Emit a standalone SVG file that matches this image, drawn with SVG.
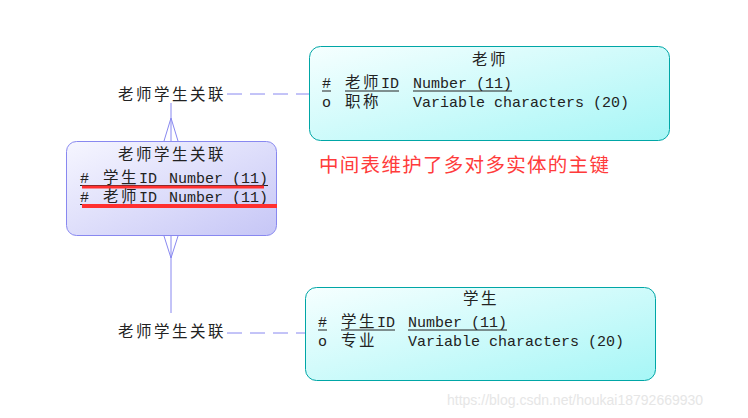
<svg xmlns="http://www.w3.org/2000/svg" width="748" height="418" viewBox="0 0 748 418">
<defs>
<linearGradient id="gc" x1="0" y1="0" x2="1" y2="1"><stop offset="0" stop-color="#f6ffff"/><stop offset="1" stop-color="#a6f6f6"/></linearGradient>
<linearGradient id="gv" x1="0" y1="0" x2="1" y2="1"><stop offset="0" stop-color="#f6f6ff"/><stop offset="1" stop-color="#c6c6f6"/></linearGradient>
<style>
.cj{font-family:"Noto Sans CJK SC",sans-serif;font-size:15.5px;letter-spacing:2.5px;fill:#222}
.mn{font-family:"Liberation Mono",monospace;font-size:15px;fill:#222}
.ul{stroke:#222;stroke-width:1}
.ln{stroke:#8888f0;stroke-width:1;fill:none}
.ds{stroke:#8888f0;stroke-width:1;fill:none;stroke-dasharray:15 8}
.red{stroke:#ff3030;stroke-width:3}
</style>
</defs>
<rect width="748" height="418" fill="#fff"/>
<g id="connectors">
<line class="ln" x1="171" y1="103" x2="171" y2="141"/>
<polyline class="ln" points="164,141 171,118 178,141"/>
<line class="ds" x1="227" y1="94" x2="309" y2="94"/>
<line class="ln" x1="171" y1="236" x2="171" y2="313"/>
<polyline class="ln" points="164,236 171,258 178,236"/>
<line class="ds" x1="227" y1="333" x2="305" y2="333"/>
<text class="cj" x="118" y="100">老师学生关联</text>
<text class="cj" x="118" y="337">老师学生关联</text>
</g>
<g id="teacher">
<rect x="309.5" y="46.5" width="360" height="94" rx="11" fill="url(#gc)" stroke="#00a6a6"/>
<text class="cj" x="472" y="65">老师</text>
<text class="mn" x="322" y="88">#</text>
<text class="cj" x="345" y="88">老师</text><text class="mn" x="381" y="88">ID</text>
<text class="mn" x="413" y="88">Number (11)</text>
<line class="ul" x1="322" y1="91" x2="331" y2="91"/>
<line class="ul" x1="345" y1="91" x2="399" y2="91"/>
<line class="ul" x1="413" y1="91" x2="512" y2="91"/>
<text class="mn" x="322" y="107">o</text>
<text class="cj" x="345" y="107">职称</text>
<text class="mn" x="413" y="107">Variable characters (20)</text>
</g>
<g id="association">
<rect x="66.5" y="141.5" width="210" height="94" rx="10" fill="url(#gv)" stroke="#8888f0"/>
<text class="cj" x="118" y="160">老师学生关联</text>
<text class="mn" x="80" y="183">#</text>
<text class="cj" x="103" y="183">学生</text><text class="mn" x="139" y="183">ID</text>
<text class="mn" x="169" y="183">Number (11)</text>
<line class="ul" x1="80" y1="185.5" x2="268" y2="185.5"/>
<line class="red" x1="82" y1="187" x2="264" y2="187"/>
<text class="mn" x="80" y="202">#</text>
<text class="cj" x="103" y="202">老师</text><text class="mn" x="139" y="202">ID</text>
<text class="mn" x="169" y="202">Number (11)</text>
<line class="ul" x1="80" y1="204.5" x2="89" y2="204.5"/>
<line stroke="#ff3030" stroke-width="4" x1="82" y1="206" x2="277" y2="206"/>
</g>
<g id="student">
<rect x="305.5" y="287.5" width="350" height="93" rx="11" fill="url(#gc)" stroke="#00a6a6"/>
<text class="cj" x="463" y="304">学生</text>
<text class="mn" x="318" y="327">#</text>
<text class="cj" x="341" y="327">学生</text><text class="mn" x="377" y="327">ID</text>
<text class="mn" x="408" y="327">Number (11)</text>
<line class="ul" x1="318" y1="330" x2="327" y2="330"/>
<line class="ul" x1="341" y1="330" x2="395" y2="330"/>
<line class="ul" x1="408" y1="330" x2="507" y2="330"/>
<text class="mn" x="318" y="346">o</text>
<text class="cj" x="341" y="346">专业</text>
<text class="mn" x="408" y="346">Variable characters (20)</text>
</g>
<text x="319" y="172" style="font-family:'Noto Sans CJK SC',sans-serif;font-size:19.5px;letter-spacing:1.3px;fill:#ff3b3b">中间表维护了多对多实体的主键</text>
<text x="447" y="405" style="font-family:'Liberation Sans',sans-serif;font-size:14px;fill:#e6e6e6">https://blog.csdn.net/houkai18792669930</text>
</svg>
